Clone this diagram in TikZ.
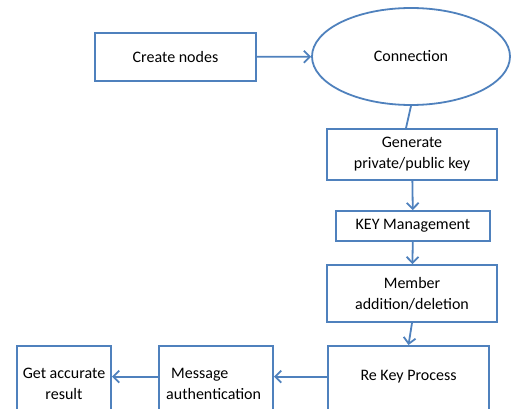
\documentclass[tikz,border=0pt]{standalone}
\usepackage{fontspec}
\setmainfont{Carlito}
\usetikzlibrary{shapes.geometric,arrows.meta,positioning}
\definecolor{officeblue}{HTML}{4F81BD}

\begin{document}
\begin{tikzpicture}[
	x = 1pt, y = -1pt,
	every node/.style = {font=\fontsize{16}{21}\selectfont, align=center, inner sep=0pt},
	box/.style = {draw=officeblue, line width=1.8pt, rectangle},
	oval/.style = {draw=officeblue, line width=1.8pt, ellipse},
	txt/.style = {anchor=north},
	flow/.style = {draw=officeblue, line width=1.8pt, -{Straight Barb[length=6pt,width=12pt,line width=1.8pt]}},
	link/.style = {draw=officeblue, line width=1.8pt}
	]
	
	\useasboundingbox (0,0) rectangle (511,409);
	\clip (0,0) rectangle (511,409);
	
	% top row
	\node[box, minimum width=161pt, minimum height=48pt] (create) at (175.5,57) {Create nodes};
	\node[oval, minimum width=198pt, minimum height=97pt] (conn) at (411,56.5) {Connection};
	
	% right column
	\node[box, minimum width=170pt, minimum height=51pt] (genkey) at (412,154.5) {Generate\\private/public key};
	\node[box, minimum width=154pt, minimum height=30pt] (keymgmt) at (413,226) {KEY Management};
	\node[box, minimum width=170pt, minimum height=57pt] (member) at (412,293.5) {Member\\addition/deletion};
	
	% bottom row, boxes run off the page
	\node[box, minimum width=161pt, minimum height=80pt, anchor=north] (rekey) at (408.5,345) {};
	\node[box, minimum width=114pt, minimum height=80pt, anchor=north] (msg) at (216,345) {};
	\node[box, minimum width=94pt, minimum height=80pt, anchor=north] (result) at (64,345) {};
	\node[txt, below=25pt of rekey.north] (rekeytxt) {Re Key Process};
	\node[txt, anchor=north west, align=left] (msgtxt) at (166,368) {\hspace*{5pt}Message\\authentication};
	\node[txt, below=23pt of result.north] (resulttxt) {Get accurate\\result};
	
	\draw[flow] (create) -- (conn);
	\draw[link] (conn.south) -- ([xshift=-6pt]genkey.north);
	\draw[flow] (genkey) -- (keymgmt);
	\draw[flow] (keymgmt) -- (member);
	\draw[flow] (member.south) -- (rekey.north);
	\draw[flow] (rekey.west |- rekeytxt) -- (msg.east |- rekeytxt);
	\draw[flow] (msg.west |- rekeytxt) -- (result.east |- rekeytxt);
\end{tikzpicture}
\end{document}
